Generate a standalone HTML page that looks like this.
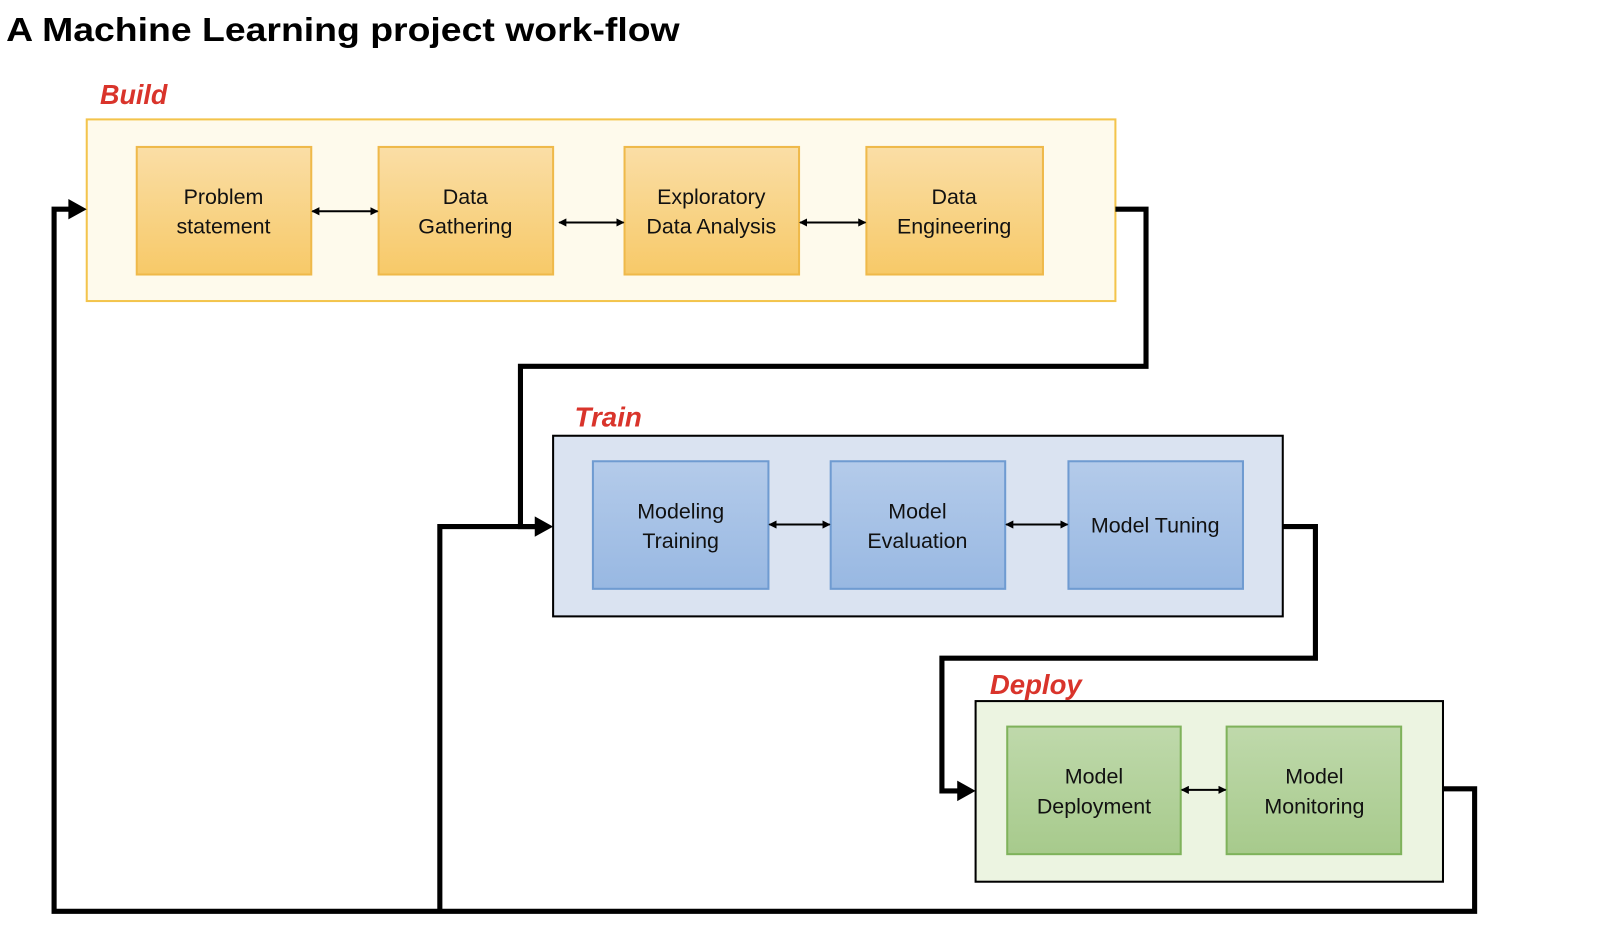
<!DOCTYPE html>
<html><head><meta charset="utf-8"><style>
html,body{margin:0;padding:0;background:#fff;}
svg{display:block;}
text{font-family:"Liberation Sans",sans-serif;}
</style></head><body>
<svg width="1600" height="932" viewBox="0 0 1600 932" xmlns="http://www.w3.org/2000/svg">
<defs>
<linearGradient id="gy" x1="0" y1="0" x2="0" y2="1"><stop offset="0" stop-color="#fadea6"/><stop offset="1" stop-color="#f7c968"/></linearGradient>
<linearGradient id="gb" x1="0" y1="0" x2="0" y2="1"><stop offset="0" stop-color="#b4cbea"/><stop offset="1" stop-color="#98b8e2"/></linearGradient>
<linearGradient id="gg" x1="0" y1="0" x2="0" y2="1"><stop offset="0" stop-color="#bfd9ab"/><stop offset="1" stop-color="#a7ca8c"/></linearGradient>
<marker id="ah" markerWidth="8" markerHeight="8" refX="7" refY="4" orient="auto-start-reverse" markerUnits="userSpaceOnUse"><path d="M0,0 L8,4 L0,8 z" fill="#000"/></marker>
</defs>
<g transform="scale(1.0205)">
<text x="6" y="40" font-size="33" font-weight="bold" textLength="660" lengthAdjust="spacingAndGlyphs">A Machine Learning project work-flow</text>

<!-- Build -->
<text x="98" y="102" font-size="27" font-weight="bold" font-style="italic" fill="#d9342b" textLength="66" lengthAdjust="spacingAndGlyphs">Build</text>
<rect x="85" y="117" width="1008" height="178" fill="#fefaec" stroke="#f3c44c" stroke-width="2"/>
<g stroke="#efb94a" stroke-width="2" fill="url(#gy)">
<rect x="134" y="144" width="171" height="125"/>
<rect x="371" y="144" width="171" height="125"/>
<rect x="612" y="144" width="171" height="125"/>
<rect x="849" y="144" width="173" height="125"/>
</g>
<g font-size="21" text-anchor="middle" fill="#111">
<text x="219" y="200">Problem</text><text x="219" y="229">statement</text>
<text x="456" y="200">Data</text><text x="456" y="229">Gathering</text>
<text x="697" y="200">Exploratory</text><text x="697" y="229">Data Analysis</text>
<text x="935" y="200">Data</text><text x="935" y="229">Engineering</text>
</g>
<g stroke="#000" stroke-width="2" marker-start="url(#ah)" marker-end="url(#ah)">
<line x1="306" y1="207" x2="370" y2="207"/>
<line x1="548" y1="218" x2="611" y2="218"/>
<line x1="784" y1="218" x2="848" y2="218"/>
</g>

<!-- Train -->
<text x="563" y="418" font-size="27" font-weight="bold" font-style="italic" fill="#d9342b" textLength="66" lengthAdjust="spacingAndGlyphs">Train</text>
<rect x="542" y="427" width="715" height="177" fill="#dae3f1" stroke="#000" stroke-width="2"/>
<g stroke="#6f9bd1" stroke-width="2" fill="url(#gb)">
<rect x="581" y="452" width="172" height="125"/>
<rect x="814" y="452" width="171" height="125"/>
<rect x="1047" y="452" width="171" height="125"/>
</g>
<g font-size="21" text-anchor="middle" fill="#111">
<text x="667" y="508">Modeling</text><text x="667" y="537">Training</text>
<text x="899" y="508">Model</text><text x="899" y="537">Evaluation</text>
<text x="1132" y="522">Model Tuning</text>
</g>
<g stroke="#000" stroke-width="2" marker-start="url(#ah)" marker-end="url(#ah)">
<line x1="754" y1="514" x2="813" y2="514"/>
<line x1="986" y1="514" x2="1046" y2="514"/>
</g>

<!-- Deploy -->
<text x="970" y="680" font-size="27" font-weight="bold" font-style="italic" fill="#d9342b" textLength="90" lengthAdjust="spacingAndGlyphs">Deploy</text>
<rect x="956" y="687" width="458" height="177" fill="#ecf4e1" stroke="#000" stroke-width="2"/>
<g stroke="#7fb25b" stroke-width="2" fill="url(#gg)">
<rect x="987" y="712" width="170" height="125"/>
<rect x="1202" y="712" width="171" height="125"/>
</g>
<g font-size="21" text-anchor="middle" fill="#111">
<text x="1072" y="768">Model</text><text x="1072" y="797">Deployment</text>
<text x="1288" y="768">Model</text><text x="1288" y="797">Monitoring</text>
</g>
<line x1="1158" y1="774" x2="1201" y2="774" stroke="#000" stroke-width="2" marker-start="url(#ah)" marker-end="url(#ah)"/>

<!-- thick connectors -->
<g fill="none" stroke="#000" stroke-width="5" stroke-linejoin="miter">
<polyline points="1093,205 1123,205 1123,359 510,359 510,516 528,516"/>
<polyline points="1257,516 1289,516 1289,645 923,645 923,775 940,775"/>
<polyline points="1414,773 1445,773 1445,893 53,893 53,205 70,205"/>
<polyline points="431,893 431,516 528,516"/>
</g>
<g fill="#000">
<path d="M524,506 L542,516 L524,526 z"/>
<path d="M938,765 L956,775 L938,785 z"/>
<path d="M67,195 L85,205 L67,215 z"/>
</g>
</g>
</svg>
</body></html>
